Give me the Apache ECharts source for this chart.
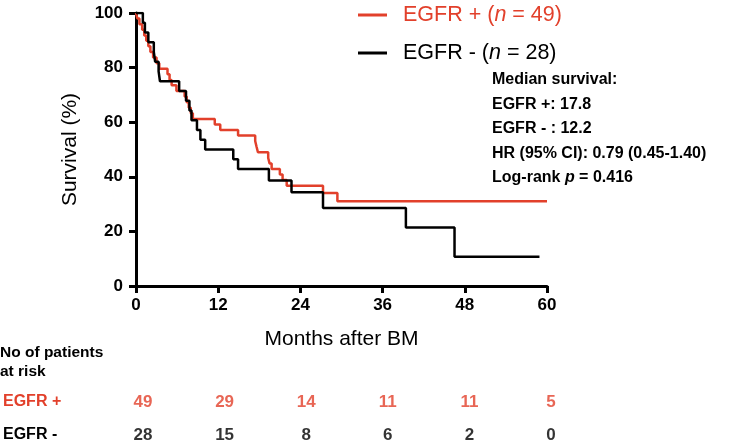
<!DOCTYPE html>
<html>
<head>
<meta charset="utf-8">
<script src="https://cdn.jsdelivr.net/npm/echarts@6/dist/echarts.min.js"></script>
<style>
html,body{margin:0;padding:0;background:#fff;}
#main{width:734px;height:443px;}
</style>
</head>
<body>
<div id="main"></div>
<script>
// ---- data ----
const egfrPosMonths = [0, 0.2, 0.5, 0.9, 1.2, 1.5, 1.8, 2.1, 2.5, 3.0, 3.4, 4.6, 4.9, 5.2, 5.9, 7.1, 7.4, 7.7, 8.0, 8.3, 11.5, 12.3, 14.9, 17.4, 17.6, 17.8, 19.3, 19.5, 19.8, 21.0, 21.4, 22.0, 27.3, 29.4, 60];
const egfrPosSurvival = [100, 98.0, 95.9, 93.9, 91.8, 89.8, 87.8, 85.7, 83.7, 81.6, 79.6, 77.6, 75.5, 73.5, 71.4, 69.4, 67.3, 65.3, 63.3, 61.2, 59.2, 57.1, 55.1, 53.1, 51.0, 49.0, 46.9, 44.9, 42.9, 40.8, 38.8, 36.7, 34.1, 31.0, 31.0];
const egfrNegMonths = [0, 1.0, 1.3, 1.8, 2.6, 2.8, 3.3, 3.5, 6.3, 7.3, 7.8, 8.1, 8.9, 9.4, 10.1, 14.2, 14.9, 19.4, 22.7, 27.3, 39.4, 46.5, 58.9];
const egfrNegSurvival = [100, 96.4, 92.9, 89.3, 85.7, 82.1, 78.6, 75.0, 71.4, 67.9, 64.3, 60.7, 57.1, 53.6, 50.0, 46.4, 42.9, 38.6, 34.3, 28.6, 21.4, 10.7, 10.7];
const riskMonths = [0, 12, 24, 36, 48, 60];
const riskEgfrPos = [49, 29, 14, 11, 11, 5];
const riskEgfrNeg = [28, 15, 8, 6, 2, 0];
const riskRows = ['EGFR +', 'EGFR -'];
const statsLines = ['Median survival:', 'EGFR +: 17.8', 'EGFR - : 12.2', 'HR (95% CI): 0.79 (0.45-1.40)'];
const pValueText = '0.416';

// ---- styles ----
const RED = '#e2402b';
const FONT = '"Liberation Sans", Arial, Helvetica, sans-serif';

const chart = echarts.init(document.getElementById('main'), null, {renderer: 'canvas'});

function pairs(xs, ys) { return xs.map((x, i) => [x, ys[i]]); }

const statsGraphics = statsLines.map((t, i) => ({
  type: 'text', x: 492, y: 80 + i * 24.5,
  style: {text: t, font: 'bold 16px ' + FONT, fill: '#000', verticalAlign: 'middle'}
}));
statsGraphics.push({
  type: 'text', x: 492, y: 80 + 4 * 24.5,
  style: {
    text: '{a|Log-rank }{b|p}{a| = ' + pValueText + '}',
    verticalAlign: 'middle',
    rich: {
      a: {fontFamily: FONT, fontWeight: 'bold', fontSize: 16, fill: '#000'},
      b: {fontFamily: FONT, fontWeight: 'bold', fontStyle: 'italic', fontSize: 16, fill: '#000'}
    }
  }
});
statsGraphics.push({
  type: 'text', x: 0, y: 343,
  style: {text: 'No of patients\nat risk', font: 'bold 15.5px ' + FONT, fill: '#000', lineHeight: 19, verticalAlign: 'top'}
});

const option = {
  animation: false,
  backgroundColor: '#fff',
  legend: {
    orient: 'vertical', left: 353, top: -2,
    itemWidth: 29, itemHeight: 3, itemGap: 14, icon: 'rect',
    data: [{name: 'EGFR +'}, {name: 'EGFR -'}],
    formatter: function (name) {
      if (name === 'EGFR +') return '{ra|EGFR + (}{rb|n}{ra| = 49)}';
      return '{ka|EGFR - (}{kb|n}{ka| = 28)}';
    },
    textStyle: {
      fontSize: 21.5, lineHeight: 24, fontFamily: FONT, padding: [0, 0, 0, 11],
      rich: {
        ra: {fontSize: 21.5, fontFamily: FONT, color: RED},
        rb: {fontSize: 21.5, fontFamily: FONT, color: RED, fontStyle: 'italic'},
        ka: {fontSize: 21.5, fontFamily: FONT, color: '#000'},
        kb: {fontSize: 21.5, fontFamily: FONT, color: '#000', fontStyle: 'italic'}
      }
    }
  },
  grid: [
    {left: 136, top: 13, width: 411, height: 273},
    {left: 136, top: 402, width: 411, height: 33}
  ],
  xAxis: [
    {
      type: 'value', gridIndex: 0, min: 0, max: 60, interval: 12,
      name: 'Months after BM', nameLocation: 'middle', nameGap: 43,
      nameTextStyle: {fontSize: 21, fontFamily: FONT, color: '#000'},
      axisLine: {show: true, onZero: false, lineStyle: {color: '#000', width: 3}},
      axisTick: {show: true, length: 7, lineStyle: {color: '#000', width: 3}},
      axisLabel: {margin: 11, fontSize: 17, fontWeight: 'bold', fontFamily: FONT, color: '#000'},
      splitLine: {show: false}
    },
    {
      type: 'value', gridIndex: 1, min: 0, max: 60, interval: 12, show: false
    }
  ],
  yAxis: [
    {
      type: 'value', gridIndex: 0, min: 0, max: 100, interval: 20,
      name: 'Survival (%)', nameLocation: 'middle', nameGap: 55,
      nameTextStyle: {fontSize: 21, fontFamily: FONT, color: '#000'},
      axisLine: {show: true, lineStyle: {color: '#000', width: 3}},
      axisTick: {show: true, length: 7, lineStyle: {color: '#000', width: 3}},
      axisLabel: {margin: 13, fontSize: 17, fontWeight: 'bold', fontFamily: FONT, color: '#000'},
      splitLine: {show: false}
    },
    {
      type: 'category', gridIndex: 1, data: riskRows, inverse: true, boundaryGap: false,
      axisLine: {show: false}, axisTick: {show: false}, splitLine: {show: false},
      axisLabel: {
        margin: 136, align: 'left', fontSize: 16, fontWeight: 'bold', fontFamily: FONT,
        color: function (v) { return v === 'EGFR +' ? RED : '#000'; }
      }
    }
  ],
  series: [
    {
      name: 'EGFR +', type: 'line', step: 'end', xAxisIndex: 0, yAxisIndex: 0,
      data: pairs(egfrPosMonths, egfrPosSurvival), showSymbol: false, symbol: 'none',
      color: RED, lineStyle: {color: RED, width: 2.5}, z: 3
    },
    {
      name: 'EGFR -', type: 'line', step: 'end', xAxisIndex: 0, yAxisIndex: 0,
      data: pairs(egfrNegMonths, egfrNegSurvival), showSymbol: false, symbol: 'none',
      color: '#000', lineStyle: {color: '#000', width: 2.5}, z: 4
    },
    {
      type: 'scatter', xAxisIndex: 1, yAxisIndex: 1, symbolSize: 1,
      itemStyle: {color: 'rgba(0,0,0,0)'},
      data: riskMonths.map((m, i) => [m, 0, riskEgfrPos[i]]),
      label: {show: true, position: 'inside', offset: [4, 0], formatter: p => String(p.value[2]),
        fontSize: 17, fontWeight: 'bold', fontFamily: FONT, color: RED}
    },
    {
      type: 'scatter', xAxisIndex: 1, yAxisIndex: 1, symbolSize: 1,
      itemStyle: {color: 'rgba(0,0,0,0)'},
      data: riskMonths.map((m, i) => [m, 1, riskEgfrNeg[i]]),
      label: {show: true, position: 'inside', offset: [4, 0], formatter: p => String(p.value[2]),
        fontSize: 17, fontWeight: 'bold', fontFamily: FONT, color: '#000'}
    }
  ],
  graphic: statsGraphics
};
chart.setOption(option);
</script>
</body>
</html>
